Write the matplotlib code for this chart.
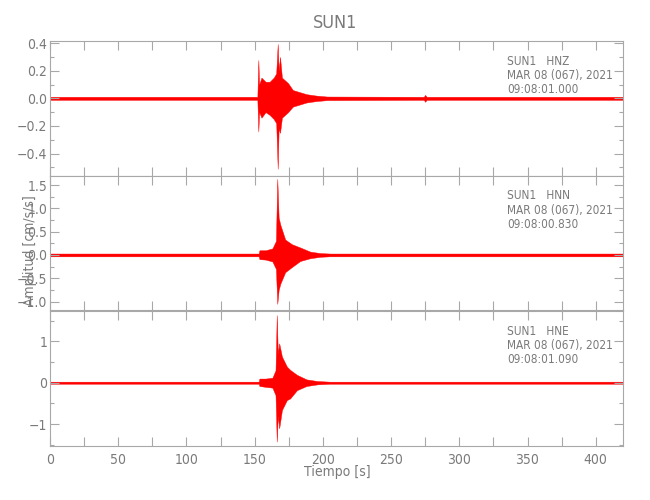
#!/usr/bin/env python3
import matplotlib
matplotlib.use('Agg')
import matplotlib.pyplot as plt
from matplotlib import font_manager
from matplotlib.ticker import MultipleLocator

# Envelope of each trace (time in s, amplitude in cm/s/s)
TIME_HNZ = [0, 100, 152.0, 152.7, 153.3, 155, 158, 161, 164, 165.8, 166.9, 167.6, 168.6, 170,
            174.5, 178, 183, 188, 195, 203, 274, 275, 276, 420]
UPPER_HNZ = [0.011, 0.011, 0.011, 0.277, 0.10, 0.15, 0.12, 0.12, 0.15, 0.18, 0.393, 0.20, 0.30, 0.15,
             0.11, 0.06, 0.045, 0.03, 0.02, 0.013, 0.011, 0.025, 0.011, 0.011]
LOWER_HNZ = [-0.011, -0.011, -0.011, -0.24, -0.10, -0.14, -0.10, -0.12, -0.15, -0.18, -0.51, -0.22, -0.25, -0.14,
             -0.10, -0.06, -0.045, -0.03, -0.02, -0.013, -0.011, -0.025, -0.011, -0.011]

TIME_HNN = [0, 100, 153.0, 153.5, 158, 163, 165.6, 166.6, 167.6, 168.8, 172.4, 177.3, 183.4, 190.8,
            198, 205, 420]
UPPER_HNN = [0.03, 0.03, 0.03, 0.10, 0.10, 0.14, 0.30, 1.63, 0.80, 0.65, 0.33, 0.23, 0.16, 0.07,
             0.04, 0.03, 0.03]
LOWER_HNN = [-0.03, -0.03, -0.03, -0.09, -0.10, -0.14, -0.30, -1.05, -0.75, -0.62, -0.37, -0.26, -0.13, -0.07,
             -0.04, -0.03, -0.03]

TIME_HNE = [0, 100, 153.0, 153.5, 158, 163, 165.3, 166.2, 167.0, 168.0, 170, 173.6, 176, 181, 188,
            196, 205, 420]
UPPER_HNE = [0.025, 0.025, 0.025, 0.10, 0.10, 0.12, 0.30, 1.63, 0.70, 0.95, 0.63, 0.39, 0.31, 0.19, 0.08,
             0.04, 0.025, 0.025]
LOWER_HNE = [-0.025, -0.025, -0.025, -0.08, -0.10, -0.12, -0.30, -1.42, -0.80, -1.10, -0.66, -0.42, -0.38, -0.18,
             -0.08, -0.04, -0.025, -0.025]

CHANNELS = ['HNZ', 'HNN', 'HNE']
START_TIMES = ['09:08:01.000', '09:08:00.830', '09:08:01.090']
Y_LIMITS = [(-0.56, 0.415), (-1.19, 1.70), (-1.52, 1.73)]
Y_MAJOR = [0.2, 0.5, 1.0]
Y_MINOR = [0.1, 0.25, 0.5]
Y_FORMATS = ['{:.1f}', '{:.1f}', '{:.0f}']

STATION = 'SUN1'
DATE_LABEL = 'MAR 08 (067), 2021'

TEXT_COLOR = '#7a7a7a'
AXIS_COLOR = '#a8a8a8'
TRACE_COLOR = '#ff0000'


def main():
    names = {f.name for f in font_manager.fontManager.ttflist}
    family = 'Liberation Sans Narrow' if 'Liberation Sans Narrow' in names else 'DejaVu Sans'
    plt.rcParams['font.family'] = [family, 'DejaVu Sans']
    plt.rcParams['font.stretch'] = 'condensed'
    plt.rcParams['axes.unicode_minus'] = False

    fig = plt.figure(figsize=(6.5, 5.0), dpi=100)
    left, width = 50 / 650, 573 / 650
    tops = [41, 175.7, 311]
    height = 134.7

    traces = [(TIME_HNZ, UPPER_HNZ, LOWER_HNZ), (TIME_HNN, UPPER_HNN, LOWER_HNN),
              (TIME_HNE, UPPER_HNE, LOWER_HNE)]

    for i, (t, up, lo) in enumerate(traces):
        ax = fig.add_axes([left, 1 - (tops[i] + height) / 500, width, height / 500])
        ax.fill_between(t, lo, up, color=TRACE_COLOR, linewidth=0.3, edgecolor=TRACE_COLOR)
        ax.set_xlim(0, 420)
        ax.set_ylim(*Y_LIMITS[i])

        ax.xaxis.set_major_locator(MultipleLocator(50))
        ax.xaxis.set_minor_locator(MultipleLocator(25))
        ax.yaxis.set_major_locator(MultipleLocator(Y_MAJOR[i]))
        ax.yaxis.set_minor_locator(MultipleLocator(Y_MINOR[i]))
        fmt = Y_FORMATS[i]
        ax.yaxis.set_major_formatter(lambda v, pos, fmt=fmt: fmt.format(v).replace('-', '\u2212')
                                     if abs(v) > 1e-9 else fmt.format(0.0))

        ax.tick_params(axis='both', which='both', direction='in', top=True, right=True,
                       color=AXIS_COLOR, labelcolor=TEXT_COLOR, labelsize=10, width=0.8)
        ax.tick_params(axis='y', which='major', length=6.5, pad=2)
        ax.tick_params(axis='y', which='minor', length=3.2)
        ax.tick_params(axis='x', which='both', length=6.5, pad=5)
        if i < 2:
            ax.tick_params(axis='x', labelbottom=False)
        for spine in ax.spines.values():
            spine.set_color(AXIS_COLOR)
            spine.set_linewidth(0.8)

        ax.text(0.798, 0.85, f'{STATION}   {CHANNELS[i]}', transform=ax.transAxes,
                color=TEXT_COLOR, fontsize=8.5, va='center', ha='left')
        ax.text(0.798, 0.745, DATE_LABEL, transform=ax.transAxes,
                color=TEXT_COLOR, fontsize=8.5, va='center', ha='left')
        ax.text(0.798, 0.64, START_TIMES[i], transform=ax.transAxes,
                color=TEXT_COLOR, fontsize=8.5, va='center', ha='left')

    fig.text(335 / 650, 1 - 23.5 / 500, STATION, color=TEXT_COLOR, fontsize=13,
             ha='center', va='center')
    fig.text(337 / 650, 1 - 472 / 500, 'Tiempo [s]', color=TEXT_COLOR, fontsize=10,
             ha='center', va='center')
    fig.text(30 / 650, 1 - 251 / 500, 'Amplitud [cm/s/s]', color=TEXT_COLOR, fontsize=10,
             ha='center', va='center', rotation=90)

    fig.savefig('out.png', dpi=100, facecolor='white')


if __name__ == '__main__':
    main()
